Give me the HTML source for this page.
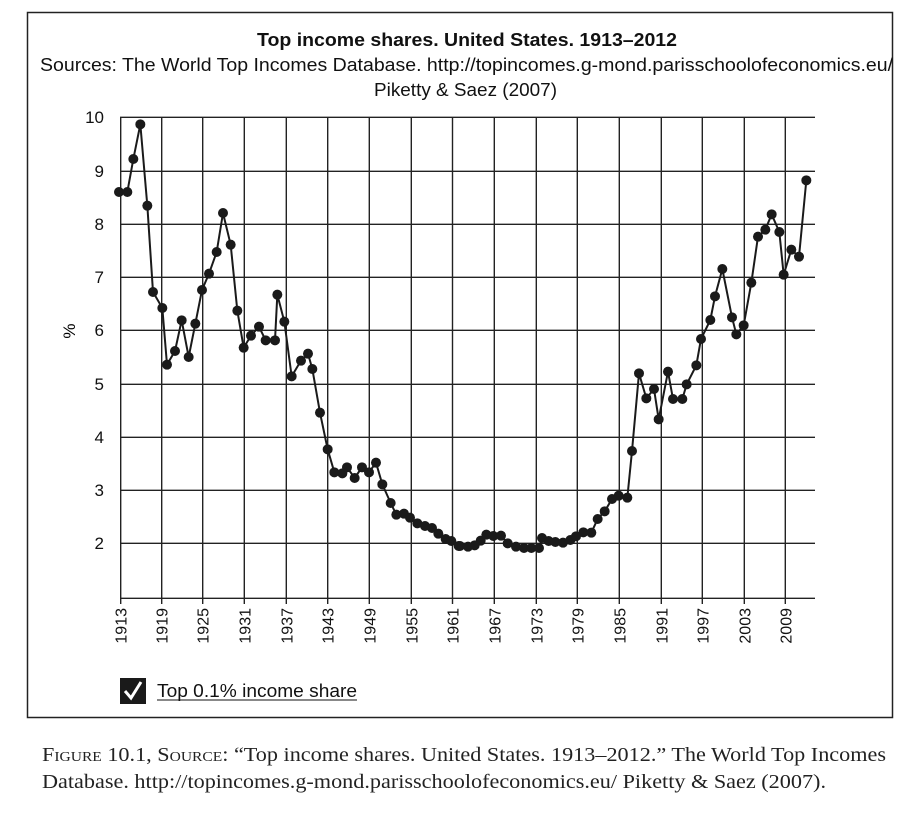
<!DOCTYPE html>
<html><head><meta charset="utf-8"><style>
body{margin:0;background:#fff;width:920px;height:818px;overflow:hidden;font-family:"Liberation Sans",sans-serif}
</style></head><body>
<svg width="920" height="818" xmlns="http://www.w3.org/2000/svg" style="position:absolute;left:0;top:0">
<rect x="27.5" y="12.5" width="865" height="705" fill="none" stroke="#222" stroke-width="1.5"/>
<g font-family="Liberation Sans, sans-serif" fill="#111">
<text x="257" y="46" font-size="18" font-weight="bold" textLength="420" lengthAdjust="spacingAndGlyphs">Top income shares. United States. 1913–2012</text>
<text x="40" y="71" font-size="18" textLength="853" lengthAdjust="spacingAndGlyphs">Sources: The World Top Incomes Database. http://topincomes.g-mond.parisschoolofeconomics.eu/</text>
<text x="374" y="96" font-size="18" textLength="183" lengthAdjust="spacingAndGlyphs">Piketty &amp; Saez (2007)</text>
</g>
<g stroke="#222" stroke-width="1.4">
<line x1="120" y1="117.3" x2="815" y2="117.3"/><line x1="120" y1="171.3" x2="815" y2="171.3"/>
<line x1="120" y1="224.3" x2="815" y2="224.3"/><line x1="120" y1="277.3" x2="815" y2="277.3"/>
<line x1="120" y1="330.3" x2="815" y2="330.3"/><line x1="120" y1="384.3" x2="815" y2="384.3"/>
<line x1="120" y1="437.3" x2="815" y2="437.3"/><line x1="120" y1="490.3" x2="815" y2="490.3"/>
<line x1="120" y1="543.3" x2="815" y2="543.3"/><line x1="120" y1="598.3" x2="815" y2="598.3"/>
<line x1="120.7" y1="117" x2="120.7" y2="604"/><line x1="161.7" y1="117" x2="161.7" y2="604"/>
<line x1="202.7" y1="117" x2="202.7" y2="604"/><line x1="244.3" y1="117" x2="244.3" y2="604"/>
<line x1="286.3" y1="117" x2="286.3" y2="604"/><line x1="327.7" y1="117" x2="327.7" y2="604"/>
<line x1="369.3" y1="117" x2="369.3" y2="604"/><line x1="411.3" y1="117" x2="411.3" y2="604"/>
<line x1="452.5" y1="117" x2="452.5" y2="604"/><line x1="494.3" y1="117" x2="494.3" y2="604"/>
<line x1="536.3" y1="117" x2="536.3" y2="604"/><line x1="577.3" y1="117" x2="577.3" y2="604"/>
<line x1="619.3" y1="117" x2="619.3" y2="604"/><line x1="661.3" y1="117" x2="661.3" y2="604"/>
<line x1="702.3" y1="117" x2="702.3" y2="604"/><line x1="744.3" y1="117" x2="744.3" y2="604"/>
<line x1="785.3" y1="117" x2="785.3" y2="604"/>
</g>
<g font-size="17" fill="#111" text-anchor="end">
<text x="104" y="123">10</text><text x="104" y="177">9</text><text x="104" y="230">8</text>
<text x="104" y="283">7</text><text x="104" y="336">6</text><text x="104" y="390">5</text>
<text x="104" y="443">4</text><text x="104" y="496">3</text><text x="104" y="549">2</text>
</g>
<text transform="translate(75,331) rotate(-90)" font-size="17" text-anchor="middle">%</text>
<g font-size="16" fill="#111" text-anchor="end">
<text transform="translate(126.7,608) rotate(-90)">1913</text>
<text transform="translate(167.7,608) rotate(-90)">1919</text>
<text transform="translate(208.7,608) rotate(-90)">1925</text>
<text transform="translate(250.3,608) rotate(-90)">1931</text>
<text transform="translate(292.3,608) rotate(-90)">1937</text>
<text transform="translate(333.7,608) rotate(-90)">1943</text>
<text transform="translate(375.3,608) rotate(-90)">1949</text>
<text transform="translate(417.3,608) rotate(-90)">1955</text>
<text transform="translate(458.5,608) rotate(-90)">1961</text>
<text transform="translate(500.3,608) rotate(-90)">1967</text>
<text transform="translate(542.3,608) rotate(-90)">1973</text>
<text transform="translate(583.3,608) rotate(-90)">1979</text>
<text transform="translate(625.3,608) rotate(-90)">1985</text>
<text transform="translate(667.3,608) rotate(-90)">1991</text>
<text transform="translate(708.3,608) rotate(-90)">1997</text>
<text transform="translate(750.3,608) rotate(-90)">2003</text>
<text transform="translate(791.3,608) rotate(-90)">2009</text>
</g>
<g transform="translate(100,100) scale(0.33333)" fill="#1a1a1a">
<polyline fill="none" stroke="#1a1a1a" stroke-width="6" points="57,276 82,276 100,177 121,73 142,317 159,576 187,624 201,794 225,753 245,661 266,771 286,671 306,570 327,521 350,456 369,339 392,434 412,632 431,743 453,707 477,680 497,721 525,721 532,584 553,665 575,829 603,782 624,761 637,807 660,938 683,1048 703,1117 727,1120 741,1102 764,1134 786,1102 807,1117 828,1088 847,1153 872,1209 889,1244 912,1241 930,1253 952,1270 975,1278 996,1284 1015,1301 1037,1317 1054,1323 1076,1338 1080,1338"/>
<circle cx="57" cy="276" r="15"/><circle cx="82" cy="276" r="15"/><circle cx="100" cy="177" r="15"/><circle cx="121" cy="73" r="15"/><circle cx="142" cy="317" r="15"/><circle cx="159" cy="576" r="15"/><circle cx="187" cy="624" r="15"/><circle cx="201" cy="794" r="15"/><circle cx="225" cy="753" r="15"/><circle cx="245" cy="661" r="15"/><circle cx="266" cy="771" r="15"/><circle cx="286" cy="671" r="15"/><circle cx="306" cy="570" r="15"/><circle cx="327" cy="521" r="15"/><circle cx="350" cy="456" r="15"/><circle cx="369" cy="339" r="15"/><circle cx="392" cy="434" r="15"/><circle cx="412" cy="632" r="15"/><circle cx="431" cy="743" r="15"/><circle cx="453" cy="707" r="15"/><circle cx="477" cy="680" r="15"/><circle cx="497" cy="721" r="15"/><circle cx="525" cy="721" r="15"/><circle cx="532" cy="584" r="15"/><circle cx="553" cy="665" r="15"/><circle cx="575" cy="829" r="15"/><circle cx="603" cy="782" r="15"/><circle cx="624" cy="761" r="15"/><circle cx="637" cy="807" r="15"/><circle cx="660" cy="938" r="15"/><circle cx="683" cy="1048" r="15"/><circle cx="703" cy="1117" r="15"/><circle cx="727" cy="1120" r="15"/><circle cx="741" cy="1102" r="15"/><circle cx="764" cy="1134" r="15"/><circle cx="786" cy="1102" r="15"/><circle cx="807" cy="1117" r="15"/><circle cx="828" cy="1088" r="15"/><circle cx="847" cy="1153" r="15"/><circle cx="872" cy="1209" r="15"/><circle cx="889" cy="1244" r="15"/><circle cx="912" cy="1241" r="15"/><circle cx="930" cy="1253" r="15"/><circle cx="952" cy="1270" r="15"/><circle cx="975" cy="1278" r="15"/><circle cx="996" cy="1284" r="15"/><circle cx="1015" cy="1301" r="15"/><circle cx="1037" cy="1317" r="15"/><circle cx="1054" cy="1323" r="15"/><circle cx="1076" cy="1338" r="15"/>
</g>
<g transform="translate(440,100) scale(0.33333)" fill="#1a1a1a">
<polyline fill="none" stroke="#1a1a1a" stroke-width="6" points="60,1338 84,1340 104,1336 122,1322 139,1304 160,1308 183,1307 203,1330 228,1340 252,1344 274,1344 297,1344 306,1314 326,1323 346,1326 369,1328 391,1320 408,1309 430,1297 454,1298 473,1257 494,1234 516,1197 536,1187 562,1193 576,1053 597,820 619,895 642,867 656,958 684,815 699,897 727,897 740,853 769,796 783,717 811,660 825,589 847,507 876,652 889,703 911,676 934,548 954,410 976,389 995,343 1018,396 1031,524 1054,449 1077,470 1099,241"/>
<circle cx="60" cy="1338" r="15"/><circle cx="84" cy="1340" r="15"/><circle cx="104" cy="1336" r="15"/><circle cx="122" cy="1322" r="15"/><circle cx="139" cy="1304" r="15"/><circle cx="160" cy="1308" r="15"/><circle cx="183" cy="1307" r="15"/><circle cx="203" cy="1330" r="15"/><circle cx="228" cy="1340" r="15"/><circle cx="252" cy="1344" r="15"/><circle cx="274" cy="1344" r="15"/><circle cx="297" cy="1344" r="15"/><circle cx="306" cy="1314" r="15"/><circle cx="326" cy="1323" r="15"/><circle cx="346" cy="1326" r="15"/><circle cx="369" cy="1328" r="15"/><circle cx="391" cy="1320" r="15"/><circle cx="408" cy="1309" r="15"/><circle cx="430" cy="1297" r="15"/><circle cx="454" cy="1298" r="15"/><circle cx="473" cy="1257" r="15"/><circle cx="494" cy="1234" r="15"/><circle cx="516" cy="1197" r="15"/><circle cx="536" cy="1187" r="15"/><circle cx="562" cy="1193" r="15"/><circle cx="576" cy="1053" r="15"/><circle cx="597" cy="820" r="15"/><circle cx="619" cy="895" r="15"/><circle cx="642" cy="867" r="15"/><circle cx="656" cy="958" r="15"/><circle cx="684" cy="815" r="15"/><circle cx="699" cy="897" r="15"/><circle cx="727" cy="897" r="15"/><circle cx="740" cy="853" r="15"/><circle cx="769" cy="796" r="15"/><circle cx="783" cy="717" r="15"/><circle cx="811" cy="660" r="15"/><circle cx="825" cy="589" r="15"/><circle cx="847" cy="507" r="15"/><circle cx="876" cy="652" r="15"/><circle cx="889" cy="703" r="15"/><circle cx="911" cy="676" r="15"/><circle cx="934" cy="548" r="15"/><circle cx="954" cy="410" r="15"/><circle cx="976" cy="389" r="15"/><circle cx="995" cy="343" r="15"/><circle cx="1018" cy="396" r="15"/><circle cx="1031" cy="524" r="15"/><circle cx="1054" cy="449" r="15"/><circle cx="1077" cy="470" r="15"/><circle cx="1099" cy="241" r="15"/>
</g>
<rect x="120" y="678" width="26" height="26" fill="#1a1a1a"/>
<path d="M125 691 L131 698 L141 682" fill="none" stroke="#fff" stroke-width="3"/>
<text x="157" y="697" font-size="18" fill="#111" textLength="200" lengthAdjust="spacingAndGlyphs">Top 0.1% income share</text>
<line x1="157" y1="700" x2="357" y2="700" stroke="#111" stroke-width="1"/>
<g font-family="Liberation Serif, serif" font-size="20" fill="#222">
<text x="42" y="761" textLength="844" lengthAdjust="spacingAndGlyphs"><tspan style="font-variant:small-caps">Figure 10.1, Source:</tspan>  “Top income shares. United States. 1913–2012.” The World Top Incomes</text>
<text x="42" y="788" textLength="784" lengthAdjust="spacingAndGlyphs">Database. http://topincomes.g-mond.parisschoolofeconomics.eu/ Piketty &amp; Saez (2007).</text>
</g>
</svg>
</body></html>
